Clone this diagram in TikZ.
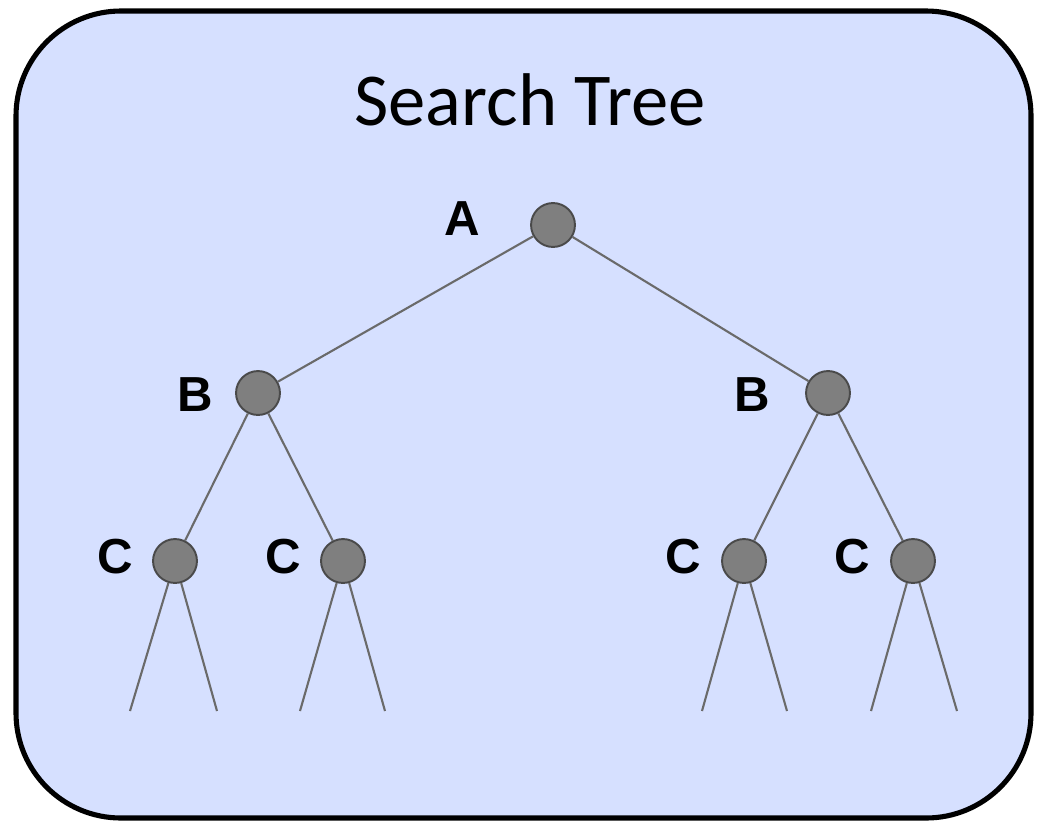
\documentclass[tikz,border=0pt]{standalone}
\usepackage{fontspec}
\setmainfont{Carlito}
\newfontfamily\lettersfont{Liberation Sans}
\definecolor{panelblue}{HTML}{D6E0FF}
\definecolor{nodegray}{HTML}{7F7F7F}
\definecolor{rimgray}{HTML}{4A4A4A}
\definecolor{edgegray}{HTML}{6A6A6A}
\tikzset{
    vertex/.style={circle, fill=nodegray, draw=rimgray, line width=1.1pt, minimum size=25pt, inner sep=0pt},
    letter/.style={font=\lettersfont\bfseries\fontsize{28}{32}\selectfont, inner sep=0pt},
    branch/.style={edgegray, line width=1.2pt},
}
\begin{document}
\begin{tikzpicture}[x=0.02cm, y=-0.02cm]
    \useasboundingbox (0,0) rectangle (1044,825);
    \draw[line width=2.9pt, fill=panelblue, rounded corners=2.1cm] (16,11) rectangle (1031,818);
    \node[font=\fontsize{42.5}{50}\selectfont] (title) at (530,100) {Search Tree};
    % tree nodes
    \node[vertex] (A) at (553,225) {};
    \node[vertex] (B1) at (258,393) {};
    \node[vertex] (B2) at (828,393) {};
    \node[vertex] (C1) at (175,561) {};
    \node[vertex] (C2) at (343,561) {};
    \node[vertex] (C3) at (744,561) {};
    \node[vertex] (C4) at (913,561) {};
    % loose ends at the bottom
    \coordinate (L1) at (130,711);
    \coordinate (L2) at (217,711);
    \coordinate (L3) at (300,711);
    \coordinate (L4) at (385,711);
    \coordinate (L5) at (702,711);
    \coordinate (L6) at (787,711);
    \coordinate (L7) at (871,711);
    \coordinate (L8) at (957,711);
    \draw[branch] (A) -- (B1);
    \draw[branch] (A) -- (B2);
    \draw[branch] (B1) -- (C1);
    \draw[branch] (B1) -- (C2);
    \draw[branch] (B2) -- (C3);
    \draw[branch] (B2) -- (C4);
    \draw[branch] (C1) -- (L1);
    \draw[branch] (C1) -- (L2);
    \draw[branch] (C2) -- (L3);
    \draw[branch] (C2) -- (L4);
    \draw[branch] (C3) -- (L5);
    \draw[branch] (C3) -- (L6);
    \draw[branch] (C4) -- (L7);
    \draw[branch] (C4) -- (L8);
    % letters
    \node[letter] (tA) at (462,219) {A};
    \node[letter] (tB1) at (195,395) {B};
    \node[letter] (tB2) at (752,395) {B};
    \node[letter] (tC1) at (115,557) {C};
    \node[letter] (tC2) at (283,557) {C};
    \node[letter] (tC3) at (683,557) {C};
    \node[letter] (tC4) at (852,557) {C};
\end{tikzpicture}
\end{document}
